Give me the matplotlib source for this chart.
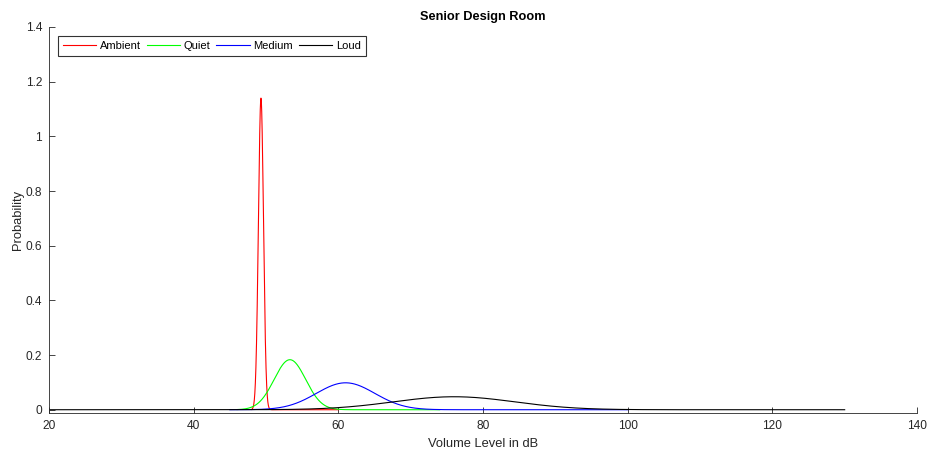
import numpy as np
import matplotlib.pyplot as plt

plt.rcParams["font.family"] = ["Liberation Sans", "DejaVu Sans"]

# Normal fits: name, mean (dB), std (dB), plotted x range
names = ["Ambient", "Quiet", "Medium", "Loud"]
colors = ["#ff0000", "#00ff00", "#0000ff", "#000000"]
means = [49.3, 53.3, 61.0, 76.0]
stds = [0.35, 2.18, 4.05, 8.4]
x_start = [48, 46, 45, 20]
x_end = [60, 74, 100, 130]

x_ticks = [20, 40, 60, 80, 100, 120, 140]
y_ticks = [0, 0.2, 0.4, 0.6, 0.8, 1, 1.2, 1.4]

axis_gray = "#262626"

fig = plt.figure(figsize=(9.34, 4.59), dpi=100)
ax = fig.add_axes([0.0525, 0.1002, 0.9293, 0.841])

for name, c, mu, sd, a, b in zip(names, colors, means, stds, x_start, x_end):
    x = np.linspace(a, b, 3000)
    y = np.exp(-0.5 * ((x - mu) / sd) ** 2) / (sd * np.sqrt(2 * np.pi))
    ax.plot(x, y, color=c, lw=0.8, label=name)

ax.set_xlim(20, 140)
ax.set_ylim(-0.012, 1.4)
ax.set_xticks(x_ticks)
ax.set_yticks(y_ticks)
ax.set_yticklabels(["0", "0.2", "0.4", "0.6", "0.8", "1", "1.2", "1.4"])

for side in ["top", "right"]:
    ax.spines[side].set_visible(False)
for side in ["left", "bottom"]:
    ax.spines[side].set_color(axis_gray)
    ax.spines[side].set_linewidth(0.6)
ax.tick_params(direction="in", length=4, width=0.6, colors=axis_gray,
               labelsize=8.6, pad=5)

ax.set_title("Senior Design Room", fontsize=9.2, fontweight="bold", pad=5)
ax.set_xlabel("Volume Level in dB", fontsize=9.3, color=axis_gray, labelpad=4)
ax.set_ylabel("Probability", fontsize=9.3, color=axis_gray, labelpad=1)

leg = ax.legend(loc="upper left", ncol=4, fontsize=8, frameon=True,
                fancybox=False, edgecolor="black", handlelength=3.0,
                handletextpad=0.35, columnspacing=0.5, borderpad=0.45,
                borderaxespad=0.8)
leg.get_frame().set_linewidth(0.8)

fig.savefig("out.png", dpi=100)
